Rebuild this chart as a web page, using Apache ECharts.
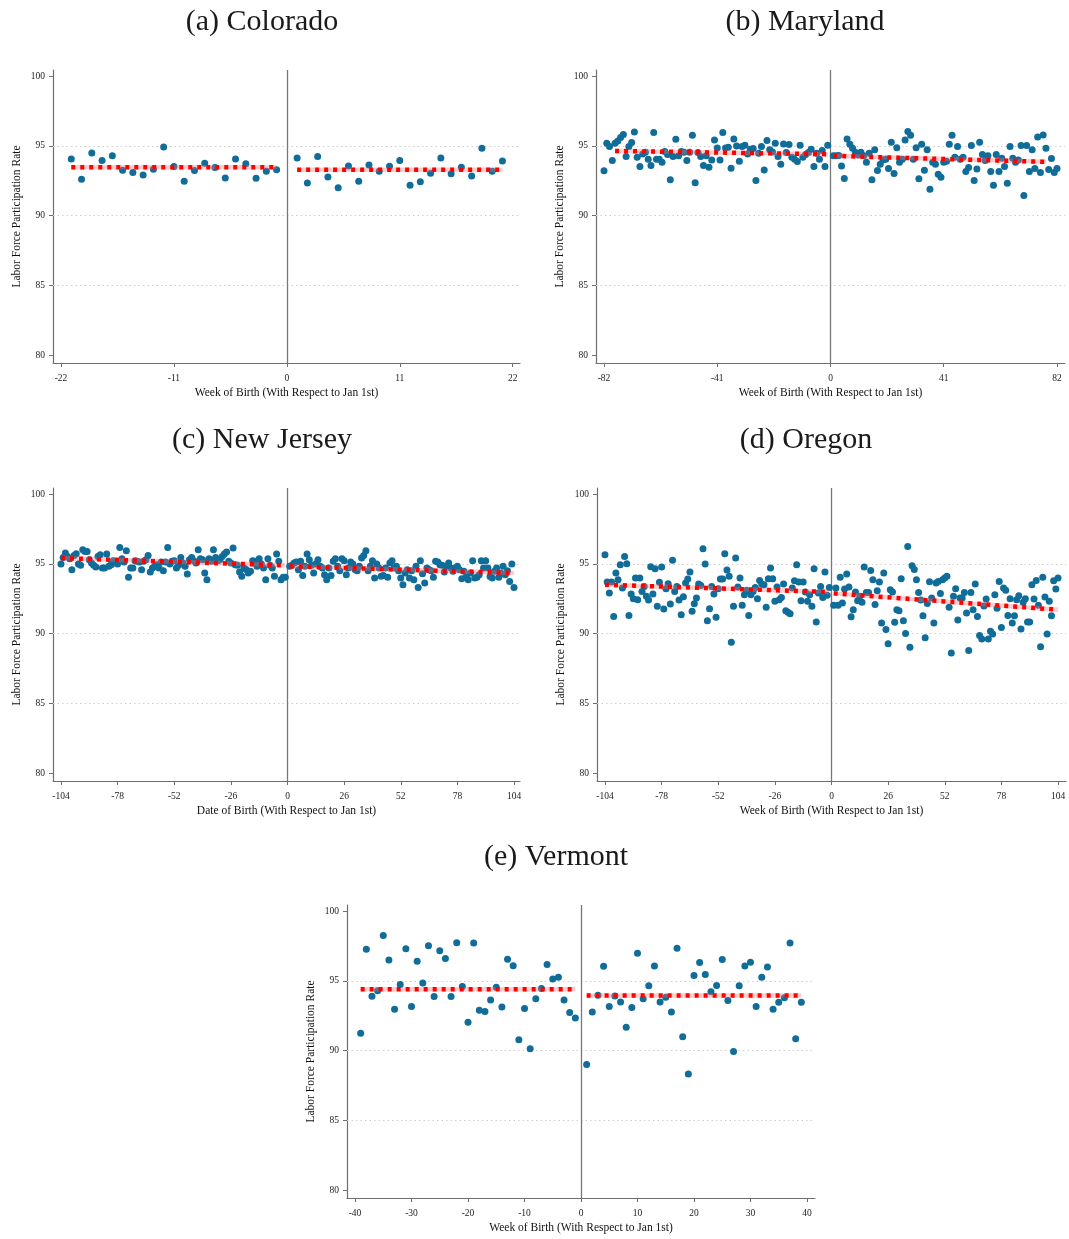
<!DOCTYPE html>
<html>
<head>
<meta charset="utf-8">
<script src="https://cdn.jsdelivr.net/npm/echarts@6/dist/echarts.min.js"></script>
<style>
  html, body { margin: 0; padding: 0; background: #ffffff; }
  #chart { width: 1069px; height: 1239px; }
</style>
</head>
<body>
<div id="chart"></div>
<script>
// Labor force participation rate by week of birth, relative to January 1st.
// Each state: rates for weeks before the cutoff (ending at week -1) and after it (starting at week 1),
// plus the linear fit on each side (start and end value over its span).

const yTicks = [80, 85, 90, 95, 100];
const gridRates = [85, 90, 95];

// (a) Colorado
const coloradoTicks = [-22, -11, 0, 11, 22];
const coloradoBefore = [94.07, 92.62, 94.50, 93.95, 94.29, 93.26, 93.09, 92.92, 93.33, 94.93, 93.52, 92.47, 93.24, 93.76, 93.45, 92.71, 94.07, 93.73, 92.69, 93.19, 93.30];
const coloradoAfter = [94.14, 92.35, 94.24, 92.78, 92.01, 93.57, 92.47, 93.64, 93.19, 93.55, 93.95, 92.19, 92.44, 93.05, 94.14, 93.00, 93.48, 92.85, 94.84, 93.19, 93.93];
const coloradoFitBefore = [[-21, 93.48], [-1, 93.48]];
const coloradoFitAfter = [[1, 93.30], [21, 93.30]];

// (b) Maryland
const marylandTicks = [-82, -41, 0, 41, 82];
const marylandBefore = [93.23, 95.19, 94.96, 93.95, 95.19, 95.36, 95.60, 95.82, 94.24, 94.96,
  95.24, 96.01, 94.19, 93.52, 94.43, 94.55, 94.05, 93.59, 95.96, 94.05,
  94.05, 93.83, 94.60, 94.38, 92.57, 94.24, 95.48, 94.29, 94.60, 94.55,
  93.95, 94.55, 95.77, 92.37, 94.53, 94.24, 93.59, 94.29, 93.47, 94.00,
  95.43, 94.86, 94.00, 95.96, 94.86, 94.91, 93.40, 95.50, 95.00, 93.90,
  94.96, 95.05, 94.43, 94.77, 94.81, 92.52, 94.48, 94.96, 93.28, 95.39,
  94.72, 94.57, 95.19, 94.24, 93.69, 95.15, 94.53, 95.10, 94.19, 94.05,
  93.88, 95.05, 94.19, 94.38, 94.53, 94.77, 93.52, 94.48, 94.05, 94.67,
  93.52, 95.05];
const marylandAfter = [94.29, 94.29, 94.31, 93.57, 92.66, 95.50, 95.12, 94.84, 94.55, 94.36,
  94.55, 94.29, 93.83, 94.48, 92.57, 94.72, 93.24, 93.69, 94.00, 94.05,
  93.38, 95.27, 93.02, 94.88, 93.83, 94.05, 95.43, 96.03, 95.77, 94.05,
  94.88, 92.64, 95.12, 93.26, 94.72, 91.90, 93.83, 93.69, 92.97, 92.76,
  93.83, 93.90, 95.12, 95.77, 94.19, 94.96, 94.05, 94.19, 93.16, 93.45,
  95.03, 92.52, 93.35, 95.27, 94.38, 93.95, 94.29, 93.16, 92.18, 94.38,
  93.16, 94.12, 93.52, 92.33, 94.96, 94.12, 93.83, 94.00, 95.03, 91.44,
  95.03, 93.16, 94.72, 93.38, 95.65, 93.09, 95.79, 94.84, 93.31, 94.10,
  93.09, 93.38];
const marylandFitBefore = [[-78, 94.64], [-1, 94.41]];
const marylandFitAfter = [[1, 94.29], [78, 93.86]];

// (c) New Jersey
const newJerseyTicks = [-104, -78, -52, -26, 0, 26, 52, 78, 104];
const newJerseyBefore = [94.99, 95.47, 95.78, 95.54, 95.38, 94.59, 95.61, 95.73, 94.99, 94.90,
  96.02, 95.90, 95.90, 95.30, 95.07, 94.90, 94.78, 95.54, 95.66, 94.71,
  94.71, 95.71, 94.83, 94.95, 95.23, 95.07, 94.99, 96.19, 95.38, 95.14,
  95.95, 94.04, 94.71, 94.71, 95.23, 95.19, 95.14, 94.59, 95.19, 95.30,
  95.61, 94.42, 94.71, 94.83, 94.95, 94.71, 95.14, 94.52, 95.14, 96.19,
  95.00, 95.19, 95.23, 94.71, 94.90, 95.47, 95.07, 94.83, 94.28, 95.30,
  95.47, 95.23, 95.07, 96.02, 95.38, 95.30, 94.35, 93.87, 95.38, 95.19,
  96.02, 95.47, 95.23, 95.30, 95.54, 95.71, 95.85, 95.19, 95.07, 96.14,
  94.95, 94.90, 94.42, 94.11, 94.71, 94.60, 94.35, 94.47, 95.23, 95.19,
  94.83, 95.38, 94.99, 94.71, 93.87, 95.38, 94.90, 94.71, 94.11, 95.71,
  95.19, 93.87, 94.04, 94.04];
const newJerseyAfter = [94.83, 94.90, 95.07, 95.14, 94.59, 95.19, 94.18, 94.83, 95.71, 95.30,
  94.90, 94.35, 94.99, 95.30, 94.83, 94.71, 94.23, 93.87, 94.71, 94.18,
  95.19, 95.38, 94.83, 94.52, 95.38, 95.23, 94.23, 94.71, 95.14, 94.99,
  94.60, 94.52, 94.83, 95.42, 95.61, 95.95, 94.52, 94.83, 95.23, 93.99,
  94.99, 94.71, 94.11, 94.18, 94.71, 94.04, 95.07, 95.23, 94.71, 94.83,
  94.52, 93.99, 93.51, 94.35, 94.59, 93.99, 94.52, 93.87, 94.83, 93.32,
  95.23, 94.30, 93.63, 94.71, 94.59, 94.52, 94.04, 95.19, 95.14, 94.95,
  94.90, 94.42, 94.83, 95.07, 94.71, 94.47, 94.71, 94.83, 94.59, 93.94,
  94.47, 94.04, 93.87, 94.35, 95.23, 93.99, 94.04, 94.23, 95.23, 94.71,
  95.23, 94.71, 94.10, 93.99, 94.47, 94.71, 94.04, 94.35, 94.83, 94.23,
  94.52, 93.75, 94.99, 93.32];
const newJerseyFitBefore = [[-104, 95.42], [-1, 94.90]];
const newJerseyFitAfter = [[1, 94.83], [104, 94.35]];

// (d) Oregon
const oregonTicks = [-104, -78, -52, -26, 0, 26, 52, 78, 104];
const oregonBefore = [95.66, 93.70, 92.92, 93.70, 91.24, 94.35, 93.87, 94.95, 93.27, 95.54,
  95.02, 91.31, 92.84, 92.51, 93.99, 92.44, 93.99, 93.03, 93.39, 92.68,
  92.41, 94.80, 92.84, 94.66, 91.96, 93.68, 94.78, 91.77, 93.23, 93.58,
  92.13, 95.26, 93.03, 93.39, 92.41, 91.36, 92.65, 93.63, 93.92, 94.42,
  91.60, 92.15, 92.56, 93.56, 93.46, 96.09, 94.99, 90.93, 91.79, 93.39,
  92.84, 91.17, 93.23, 93.92, 93.92, 95.74, 94.56, 94.11, 89.38, 91.96,
  95.42, 93.35, 93.99, 92.03, 92.80, 93.11, 91.31, 92.80, 93.03, 93.32,
  92.51, 93.82, 93.56, 93.51, 91.89, 93.94, 94.71, 93.94, 92.32, 93.35,
  92.44, 92.60, 93.56, 91.65, 91.53, 91.43, 93.27, 93.80, 94.95, 93.70,
  92.37, 93.70, 92.99, 92.32, 92.80, 91.96, 94.66, 90.84, 92.92, 93.39,
  92.60, 94.42, 92.75, 93.32];
const oregonAfter = [92.03, 93.27, 92.03, 94.04, 92.20, 93.20, 94.28, 93.35, 91.22, 91.72,
  92.99, 92.37, 92.68, 92.25, 94.78, 92.96, 92.96, 94.54, 93.87, 92.10,
  93.08, 93.70, 90.77, 94.35, 90.29, 89.28, 93.15, 92.99, 90.81, 91.72,
  91.65, 93.94, 90.93, 90.02, 96.26, 89.02, 94.87, 94.61, 93.87, 92.96,
  92.41, 91.29, 89.71, 92.17, 93.73, 92.56, 90.77, 93.63, 93.75, 92.89,
  93.87, 93.99, 94.11, 91.89, 88.61, 92.68, 93.23, 90.98, 92.56, 92.56,
  92.96, 91.48, 88.80, 92.96, 91.72, 93.56, 91.24, 89.86, 89.62, 91.98,
  92.48, 89.62, 90.17, 89.98, 92.80, 91.82, 93.75, 90.45, 93.27, 93.11,
  91.31, 92.51, 90.77, 91.29, 92.44, 92.72, 90.33, 92.25, 92.51, 90.84,
  90.84, 93.51, 92.48, 93.82, 92.03, 89.07, 94.04, 92.63, 89.98, 92.32,
  91.29, 93.80, 93.20, 93.99];
const oregonFitBefore = [[-104, 93.51], [-1, 92.99]];
const oregonFitAfter = [[1, 92.89], [104, 91.72]];

// (e) Vermont
const vermontTicks = [-40, -30, -20, -10, 0, 10, 20, 30, 40];
const vermontBefore = [91.25, 97.28, 93.91, 94.29, 98.26, 96.51, 92.97, 94.74, 97.32, 93.17,
  96.42, 94.86, 97.52, 93.88, 97.16, 96.61, 93.88, 97.75, 94.60, 92.04,
  97.73, 92.90, 92.81, 93.64, 94.55, 93.14, 96.56, 96.10, 90.78, 93.02,
  90.13, 93.72, 94.46, 96.18, 95.15, 95.27, 93.64, 92.74, 92.35];
const vermontAfter = [89.00, 92.78, 93.98, 96.06, 93.17, 93.93, 93.50, 91.68, 93.09, 96.99,
  93.72, 94.65, 96.08, 93.50, 93.83, 92.78, 97.35, 90.99, 88.32, 95.39,
  96.32, 95.46, 94.22, 94.67, 96.54, 93.60, 89.94, 94.65, 96.08, 96.34,
  93.17, 95.27, 96.01, 92.97, 93.48, 93.79, 97.73, 90.85, 93.48];
const vermontFitBefore = [[-39, 94.41], [-1, 94.41]];
const vermontFitAfter = [[1, 93.95], [39, 93.95]];

const serif = '"Liberation Serif", "Times New Roman", serif';
const axisGray = '#6e6e6e';
const dotColor = '#106c98';

const panels = [
  { title: '(a) Colorado', tx: 262, ty: 22, grid: { left: 53, top: 70, width: 467, height: 293 },
    xMin: -22.78, xMax: 22.71, ticks: coloradoTicks, xName: 'Week of Birth (With Respect to Jan 1st)',
    before: coloradoBefore, after: coloradoAfter, fitB: coloradoFitBefore, fitA: coloradoFitAfter },
  { title: '(b) Maryland', tx: 805, ty: 22, grid: { left: 596, top: 70, width: 469, height: 293 },
    xMin: -84.9, xMax: 84.9, ticks: marylandTicks, xName: 'Week of Birth (With Respect to Jan 1st)',
    before: marylandBefore, after: marylandAfter, fitB: marylandFitBefore, fitA: marylandFitAfter },
  { title: '(c) New Jersey', tx: 262, ty: 440, grid: { left: 53, top: 488, width: 467, height: 293 },
    xMin: -107.67, xMax: 106.75, ticks: newJerseyTicks, xName: 'Date of Birth (With Respect to Jan 1st)',
    before: newJerseyBefore, after: newJerseyAfter, fitB: newJerseyFitBefore, fitA: newJerseyFitAfter },
  { title: '(d) Oregon', tx: 806, ty: 440, grid: { left: 597, top: 488, width: 469, height: 293 },
    xMin: -107.67, xMax: 107.67, ticks: oregonTicks, xName: 'Week of Birth (With Respect to Jan 1st)',
    before: oregonBefore, after: oregonAfter, fitB: oregonFitBefore, fitA: oregonFitAfter },
  { title: '(e) Vermont', tx: 556, ty: 857, grid: { left: 347, top: 905, width: 468, height: 293 },
    xMin: -41.42, xMax: 41.42, ticks: vermontTicks, xName: 'Week of Birth (With Respect to Jan 1st)',
    before: vermontBefore, after: vermontAfter, fitB: vermontFitBefore, fitA: vermontFitAfter }
];

const grids = [], xAxes = [], yAxes = [], series = [], graphics = [];

panels.forEach((p, i) => {
  grids.push(Object.assign({ containLabel: false }, p.grid));
  xAxes.push({
    gridIndex: i, type: 'value', min: p.xMin, max: p.xMax,
    axisLine: { show: true, onZero: false, lineStyle: { color: axisGray, width: 1.2 } },
    axisTick: { show: true, customValues: p.ticks, length: 4, lineStyle: { color: axisGray, width: 1 } },
    axisLabel: { customValues: p.ticks, fontFamily: serif, fontSize: 9.5, color: '#222', margin: 10 },
    splitLine: { show: false },
    name: p.xName, nameLocation: 'middle', nameGap: 24,
    nameTextStyle: { fontFamily: serif, fontSize: 11.5, color: '#111' }
  });
  yAxes.push({
    gridIndex: i, type: 'value', min: 79.43, max: 100.45,
    axisLine: { show: true, onZero: false, lineStyle: { color: axisGray, width: 1.2 } },
    axisTick: { show: true, customValues: yTicks, length: 4, lineStyle: { color: axisGray, width: 1 } },
    axisLabel: { customValues: yTicks, fontFamily: serif, fontSize: 9.5, color: '#222', margin: 8 },
    splitLine: { show: false },
    name: 'Labor Force Participation Rate', nameLocation: 'middle', nameGap: 30, nameRotate: 90,
    nameTextStyle: { fontFamily: serif, fontSize: 11.5, color: '#111' }
  });

  const nB = p.before.length;
  const points = p.before.map((v, k) => [k - nB, v]).concat(p.after.map((v, k) => [k + 1, v]));

  const refLines = gridRates.map(r => ({ yAxis: r, lineStyle: { color: '#cfcfcf', type: [1.5, 3], width: 1 } }));
  refLines.push({ xAxis: 0, lineStyle: { color: '#777777', type: 'solid', width: 1.3 } });

  series.push({
    type: 'scatter', xAxisIndex: i, yAxisIndex: i, data: points,
    symbol: 'circle', symbolSize: 7,
    itemStyle: { color: dotColor, opacity: 1 },
    z: 3,
    markLine: { silent: true, symbol: 'none', label: { show: false }, animation: false, data: refLines, z: 1 }
  });

  [p.fitB, p.fitA].forEach(fit => {
    // soft pink base under the dashed fit line
    series.push({
      type: 'line', xAxisIndex: i, yAxisIndex: i, data: fit, showSymbol: false, silent: true, z: 4,
      lineStyle: { color: 'rgba(255,110,110,0.35)', width: 4.5, type: 'solid' }
    });
    series.push({
      type: 'line', xAxisIndex: i, yAxisIndex: i, data: fit, showSymbol: false, silent: true, z: 5,
      lineStyle: { color: '#ff0000', width: 4.5, type: [4, 5], cap: 'butt' }
    });
  });

  graphics.push({
    type: 'text', x: p.tx, y: p.ty,
    style: { text: p.title, font: '30px ' + serif, fill: '#1a1a1a', align: 'center', verticalAlign: 'middle' }
  });
});

const chart = echarts.init(document.getElementById('chart'), null, { renderer: 'canvas' });
chart.setOption({
  animation: false,
  backgroundColor: '#ffffff',
  grid: grids,
  xAxis: xAxes,
  yAxis: yAxes,
  series: series,
  graphic: graphics
});
</script>
</body>
</html>
